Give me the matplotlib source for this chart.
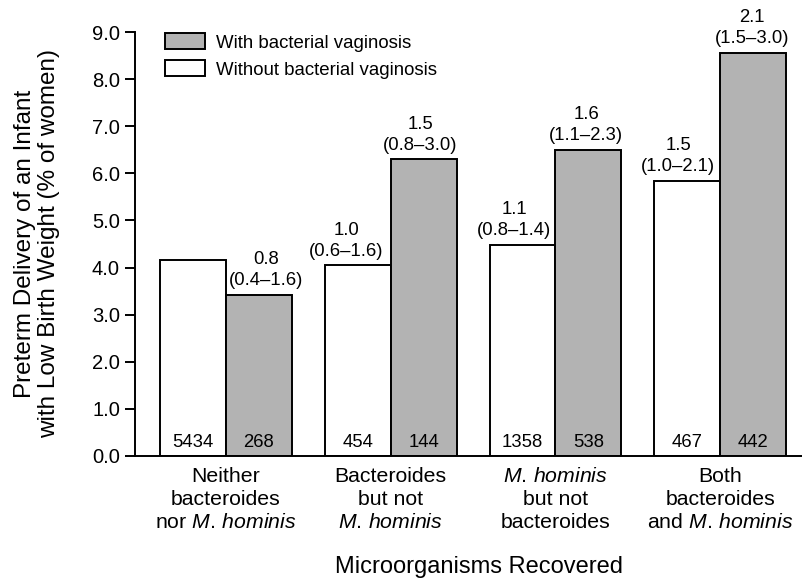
import numpy as np
import matplotlib
matplotlib.use("Agg")
import matplotlib.pyplot as plt
from matplotlib.patches import Patch

# Data
groups = [
    "Neither\nbacteroides\nnor $\\mathit{M.\\,hominis}$",
    "Bacteroides\nbut not\n$\\mathit{M.\\,hominis}$",
    "$\\mathit{M.\\,hominis}$\nbut not\nbacteroides",
    "Both\nbacteroides\nand $\\mathit{M.\\,hominis}$",
]
without_bv = [4.17, 4.05, 4.48, 5.84]
with_bv = [3.42, 6.30, 6.50, 8.57]
n_without = [5434, 454, 1358, 467]
n_with = [268, 144, 538, 442]
or_without = [None, "1.0\n(0.6\u20131.6)", "1.1\n(0.8\u20131.4)", "1.5\n(1.0\u20132.1)"]
or_with = ["0.8\n(0.4\u20131.6)", "1.5\n(0.8\u20133.0)", "1.6\n(1.1\u20132.3)", "2.1\n(1.5\u20133.0)"]

plt.rcParams["font.family"] = ["Liberation Sans", "DejaVu Sans"]
plt.rcParams["mathtext.fontset"] = "custom"
plt.rcParams["mathtext.rm"] = "Liberation Sans"
plt.rcParams["mathtext.it"] = "Liberation Sans:italic"

GRAY = "#b3b3b3"
LW = 1.4
width = 0.4
x = np.arange(len(groups))

fig = plt.figure(figsize=(8.03, 5.81), dpi=100)
ax = fig.add_axes([0.1675, 0.2157, 0.8319, 0.7287])

ax.bar(x - width / 2, without_bv, width, color="white", edgecolor="black", linewidth=LW)
ax.bar(x + width / 2, with_bv, width, color=GRAY, edgecolor="black", linewidth=LW)

# sample sizes inside the bars
for i in range(len(groups)):
    ax.annotate(str(n_without[i]), (x[i] - width / 2, 0), xytext=(0, 6.5),
                textcoords="offset points", ha="center", va="baseline", fontsize=13.3)
    ax.annotate(str(n_with[i]), (x[i] + width / 2, 0), xytext=(0, 6.5),
                textcoords="offset points", ha="center", va="baseline", fontsize=13.3)

# odds ratios above bars
white_dx = [0, -8, -6, -6.5]
gray_dx = [5, -2.5, -1.5, -1]
for i in range(len(groups)):
    if or_without[i]:
        ax.annotate(or_without[i], (x[i] - width / 2, without_bv[i]),
                    xytext=(white_dx[i], 4), textcoords="offset points",
                    ha="center", va="bottom", fontsize=13.3, multialignment="center",
                    linespacing=1.3)
    ax.annotate(or_with[i], (x[i] + width / 2, with_bv[i]),
                xytext=(gray_dx[i], 4), textcoords="offset points",
                ha="center", va="bottom", fontsize=13.3, multialignment="center",
                linespacing=1.3)

ax.set_xlim(-0.555, 3.5)
ax.set_ylim(0, 9)
ax.set_yticks(np.arange(0, 9.5, 1.0))
ax.set_yticklabels([f"{v:.1f}" for v in np.arange(0, 9.5, 1.0)], fontsize=14.5)
ax.set_xticks(x)
ax.set_xticklabels(groups, fontsize=15.3, linespacing=1.27)

ax.spines["top"].set_visible(False)
ax.spines["right"].set_visible(False)
ax.spines["left"].set_linewidth(LW)
ax.spines["bottom"].set_linewidth(LW)
ax.tick_params(axis="y", direction="out", length=7.5, width=LW, pad=3)
ax.tick_params(axis="x", length=0, pad=8)

ax.set_ylabel("Preterm Delivery of an Infant\nwith Low Birth Weight (% of women)",
              fontsize=17.5, linespacing=1.12)
ax.yaxis.set_label_coords(-0.112, 0.5)
ax.set_xlabel("Microorganisms Recovered", fontsize=17)
ax.xaxis.set_label_coords(0.516, -0.237)

handles = [Patch(facecolor=GRAY, edgecolor="black", linewidth=LW),
           Patch(facecolor="white", edgecolor="black", linewidth=LW)]
ax.legend(handles, ["With bacterial vaginosis", "Without bacterial vaginosis"],
          loc="upper left", bbox_to_anchor=(0.035, 1.015), frameon=False, fontsize=13.4,
          handlelength=2.15, handleheight=0.95, handletextpad=0.55, labelspacing=0.45,
          borderaxespad=0)

fig.savefig("out.png", dpi=100)
